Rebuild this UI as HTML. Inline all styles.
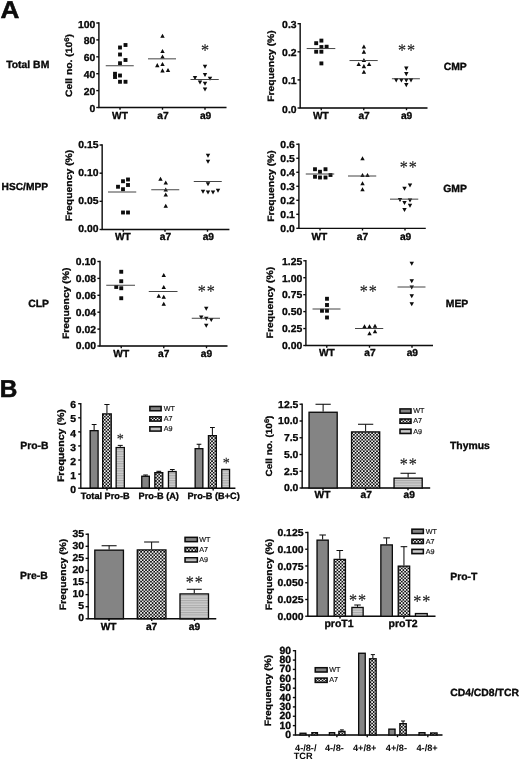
<!DOCTYPE html>
<html lang="en"><head><meta charset="utf-8"><title>Figure</title>
<style>html,body{margin:0;padding:0;background:#fff}svg{display:block}</style></head>
<body>
<svg width="520" height="761" viewBox="0 0 520 761" text-rendering="geometricPrecision">
<defs><filter id="soft" x="0" y="0" width="520" height="761" filterUnits="userSpaceOnUse"><feGaussianBlur stdDeviation="0.3"/></filter>
<pattern id="chk" width="3.3" height="3.3" patternUnits="userSpaceOnUse"><rect width="3.3" height="3.3" fill="#0a0a0a"/><circle cx="0.82" cy="0.82" r="0.93" fill="#fff"/><circle cx="2.47" cy="2.47" r="0.93" fill="#fff"/></pattern>
<pattern id="str" width="2.4" height="2.4" patternUnits="userSpaceOnUse"><rect width="2.4" height="2.4" fill="#cfcfcf"/><rect y="0" width="2.4" height="1.1" fill="#a8a8a8"/></pattern>
</defs>
<rect width="520" height="761" fill="#fff"/>
<g filter="url(#soft)">
<text transform="translate(0.4,18.4) scale(1.07,1)" font-family='"Liberation Sans", sans-serif' font-size="24.4" font-weight="bold" fill="#080808" stroke="#080808" stroke-width="0.5">A</text>
<text x="-0.30" y="396.60" font-family='"Liberation Sans", sans-serif' font-size="24.4" font-weight="bold" text-anchor="start" fill="#080808" stroke="#080808" stroke-width="0.5">B</text>
<path d="M98.90 22.32 V107.50 H226.50" fill="none" stroke="#080808" stroke-width="1.35" stroke-linejoin="miter"/>
<line x1="96.30" y1="107.50" x2="98.90" y2="107.50" stroke="#080808" stroke-width="1.35"/>
<text transform="translate(95.30,112.00) scale(1,0.97)" font-family='"Liberation Sans", sans-serif' font-size="10.4" font-weight="bold" text-anchor="end" fill="#080808" stroke="#080808" stroke-width="0.3">0</text>
<line x1="96.30" y1="90.60" x2="98.90" y2="90.60" stroke="#080808" stroke-width="1.35"/>
<text transform="translate(95.30,95.10) scale(1,0.97)" font-family='"Liberation Sans", sans-serif' font-size="10.4" font-weight="bold" text-anchor="end" fill="#080808" stroke="#080808" stroke-width="0.3">20</text>
<line x1="96.30" y1="73.70" x2="98.90" y2="73.70" stroke="#080808" stroke-width="1.35"/>
<text transform="translate(95.30,78.20) scale(1,0.97)" font-family='"Liberation Sans", sans-serif' font-size="10.4" font-weight="bold" text-anchor="end" fill="#080808" stroke="#080808" stroke-width="0.3">40</text>
<line x1="96.30" y1="56.80" x2="98.90" y2="56.80" stroke="#080808" stroke-width="1.35"/>
<text transform="translate(95.30,61.30) scale(1,0.97)" font-family='"Liberation Sans", sans-serif' font-size="10.4" font-weight="bold" text-anchor="end" fill="#080808" stroke="#080808" stroke-width="0.3">60</text>
<line x1="96.30" y1="39.90" x2="98.90" y2="39.90" stroke="#080808" stroke-width="1.35"/>
<text transform="translate(95.30,44.40) scale(1,0.97)" font-family='"Liberation Sans", sans-serif' font-size="10.4" font-weight="bold" text-anchor="end" fill="#080808" stroke="#080808" stroke-width="0.3">80</text>
<line x1="96.30" y1="23.00" x2="98.90" y2="23.00" stroke="#080808" stroke-width="1.35"/>
<text transform="translate(95.30,27.50) scale(1,0.97)" font-family='"Liberation Sans", sans-serif' font-size="10.4" font-weight="bold" text-anchor="end" fill="#080808" stroke="#080808" stroke-width="0.3">100</text>
<line x1="120.00" y1="107.50" x2="120.00" y2="109.70" stroke="#080808" stroke-width="1.35"/>
<line x1="162.50" y1="107.50" x2="162.50" y2="109.70" stroke="#080808" stroke-width="1.35"/>
<line x1="205.00" y1="107.50" x2="205.00" y2="109.70" stroke="#080808" stroke-width="1.35"/>
<text transform="translate(72.20,65.50) rotate(-90) scale(1,0.89)" font-family='"Liberation Sans", sans-serif' font-size="10.4" font-weight="bold" text-anchor="middle" fill="#080808" stroke="#080808" stroke-width="0.3">Cell no. (10<tspan font-size="7.6" dy="-3.6">6</tspan><tspan dy="3.6">)</tspan></text>
<text x="120.00" y="118.90" font-family='"Liberation Sans", sans-serif' font-size="10.2" font-weight="bold" text-anchor="middle" fill="#080808" stroke="#080808" stroke-width="0.3">WT</text>
<text x="163.00" y="118.90" font-family='"Liberation Sans", sans-serif' font-size="10.2" font-weight="bold" text-anchor="middle" fill="#080808" stroke="#080808" stroke-width="0.3">a7</text>
<text x="205.60" y="118.90" font-family='"Liberation Sans", sans-serif' font-size="10.2" font-weight="bold" text-anchor="middle" fill="#080808" stroke="#080808" stroke-width="0.3">a9</text>
<text x="6.20" y="68.00" font-family='"Liberation Sans", sans-serif' font-size="10.4" font-weight="bold" text-anchor="start" fill="#080808" stroke="#080808" stroke-width="0.3">Total BM</text>
<rect x="118.08" y="45.58" width="3.85" height="3.85" fill="#080808"/>
<rect x="123.58" y="43.08" width="3.85" height="3.85" fill="#080808"/>
<rect x="118.08" y="52.58" width="3.85" height="3.85" fill="#080808"/>
<rect x="123.58" y="58.08" width="3.85" height="3.85" fill="#080808"/>
<rect x="118.08" y="61.33" width="3.85" height="3.85" fill="#080808"/>
<rect x="113.08" y="71.83" width="3.85" height="3.85" fill="#080808"/>
<rect x="118.08" y="73.58" width="3.85" height="3.85" fill="#080808"/>
<rect x="113.08" y="75.08" width="3.85" height="3.85" fill="#080808"/>
<rect x="118.08" y="79.83" width="3.85" height="3.85" fill="#080808"/>
<rect x="123.58" y="79.83" width="3.85" height="3.85" fill="#080808"/>
<line x1="105.75" y1="65.75" x2="133.75" y2="65.75" stroke="#444" stroke-width="1.0"/>
<path d="M160.30 37.85 L164.70 37.85 L162.50 33.65 Z" fill="#080808"/>
<path d="M160.30 53.10 L164.70 53.10 L162.50 48.90 Z" fill="#080808"/>
<path d="M160.30 58.60 L164.70 58.60 L162.50 54.40 Z" fill="#080808"/>
<path d="M155.10 67.30 L159.50 67.30 L157.30 63.10 Z" fill="#080808"/>
<path d="M160.30 66.10 L164.70 66.10 L162.50 61.90 Z" fill="#080808"/>
<path d="M160.30 72.50 L164.70 72.50 L162.50 68.30 Z" fill="#080808"/>
<path d="M165.80 72.10 L170.20 72.10 L168.00 67.90 Z" fill="#080808"/>
<line x1="148.00" y1="58.85" x2="176.00" y2="58.85" stroke="#444" stroke-width="1.0"/>
<path d="M202.80 64.65 L207.20 64.65 L205.00 68.85 Z" fill="#080808"/>
<path d="M202.80 72.90 L207.20 72.90 L205.00 77.10 Z" fill="#080808"/>
<path d="M192.80 75.90 L197.20 75.90 L195.00 80.10 Z" fill="#080808"/>
<path d="M207.80 76.65 L212.20 76.65 L210.00 80.85 Z" fill="#080808"/>
<path d="M197.80 80.40 L202.20 80.40 L200.00 84.60 Z" fill="#080808"/>
<path d="M202.80 81.65 L207.20 81.65 L205.00 85.85 Z" fill="#080808"/>
<path d="M202.80 87.40 L207.20 87.40 L205.00 91.60 Z" fill="#080808"/>
<line x1="190.50" y1="79.50" x2="218.75" y2="79.50" stroke="#444" stroke-width="1.0"/>
<text transform="translate(205.15,56.29) scale(0.9,1)" font-family='"Liberation Serif", serif' font-size="18" text-anchor="middle" fill="#222" stroke="#222" stroke-width="0.14">*</text>
<path d="M300.15 23.02 V108.00 H427.50" fill="none" stroke="#080808" stroke-width="1.35" stroke-linejoin="miter"/>
<line x1="297.55" y1="108.00" x2="300.15" y2="108.00" stroke="#080808" stroke-width="1.35"/>
<text transform="translate(296.55,112.50) scale(1,0.97)" font-family='"Liberation Sans", sans-serif' font-size="10.4" font-weight="bold" text-anchor="end" fill="#080808" stroke="#080808" stroke-width="0.3">0.0</text>
<line x1="297.55" y1="79.90" x2="300.15" y2="79.90" stroke="#080808" stroke-width="1.35"/>
<text transform="translate(296.55,84.40) scale(1,0.97)" font-family='"Liberation Sans", sans-serif' font-size="10.4" font-weight="bold" text-anchor="end" fill="#080808" stroke="#080808" stroke-width="0.3">0.1</text>
<line x1="297.55" y1="51.80" x2="300.15" y2="51.80" stroke="#080808" stroke-width="1.35"/>
<text transform="translate(296.55,56.30) scale(1,0.97)" font-family='"Liberation Sans", sans-serif' font-size="10.4" font-weight="bold" text-anchor="end" fill="#080808" stroke="#080808" stroke-width="0.3">0.2</text>
<line x1="297.55" y1="23.70" x2="300.15" y2="23.70" stroke="#080808" stroke-width="1.35"/>
<text transform="translate(296.55,28.20) scale(1,0.97)" font-family='"Liberation Sans", sans-serif' font-size="10.4" font-weight="bold" text-anchor="end" fill="#080808" stroke="#080808" stroke-width="0.3">0.3</text>
<line x1="321.25" y1="108.00" x2="321.25" y2="110.20" stroke="#080808" stroke-width="1.35"/>
<line x1="363.75" y1="108.00" x2="363.75" y2="110.20" stroke="#080808" stroke-width="1.35"/>
<line x1="406.50" y1="108.00" x2="406.50" y2="110.20" stroke="#080808" stroke-width="1.35"/>
<text transform="translate(274.30,66.00) rotate(-90) scale(1,0.89)" font-family='"Liberation Sans", sans-serif' font-size="10.4" font-weight="bold" text-anchor="middle" fill="#080808" stroke="#080808" stroke-width="0.3">Frequency (%)</text>
<text x="320.90" y="119.15" font-family='"Liberation Sans", sans-serif' font-size="10.2" font-weight="bold" text-anchor="middle" fill="#080808" stroke="#080808" stroke-width="0.3">WT</text>
<text x="364.10" y="119.15" font-family='"Liberation Sans", sans-serif' font-size="10.2" font-weight="bold" text-anchor="middle" fill="#080808" stroke="#080808" stroke-width="0.3">a7</text>
<text x="406.60" y="119.15" font-family='"Liberation Sans", sans-serif' font-size="10.2" font-weight="bold" text-anchor="middle" fill="#080808" stroke="#080808" stroke-width="0.3">a9</text>
<text x="443.70" y="70.10" font-family='"Liberation Sans", sans-serif' font-size="10.4" font-weight="bold" text-anchor="start" fill="#080808" stroke="#080808" stroke-width="0.3">CMP</text>
<rect x="319.47" y="38.68" width="3.85" height="3.85" fill="#080808"/>
<rect x="314.27" y="41.28" width="3.85" height="3.85" fill="#080808"/>
<rect x="319.47" y="45.08" width="3.85" height="3.85" fill="#080808"/>
<rect x="324.68" y="44.78" width="3.85" height="3.85" fill="#080808"/>
<rect x="314.27" y="49.78" width="3.85" height="3.85" fill="#080808"/>
<rect x="319.47" y="49.78" width="3.85" height="3.85" fill="#080808"/>
<rect x="319.47" y="61.48" width="3.85" height="3.85" fill="#080808"/>
<line x1="306.70" y1="48.55" x2="335.30" y2="48.55" stroke="#444" stroke-width="1.0"/>
<path d="M361.70 48.60 L366.10 48.60 L363.90 44.40 Z" fill="#080808"/>
<path d="M361.70 53.80 L366.10 53.80 L363.90 49.60 Z" fill="#080808"/>
<path d="M361.70 62.10 L366.10 62.10 L363.90 57.90 Z" fill="#080808"/>
<path d="M356.50 66.10 L360.90 66.10 L358.70 61.90 Z" fill="#080808"/>
<path d="M366.90 66.10 L371.30 66.10 L369.10 61.90 Z" fill="#080808"/>
<path d="M361.70 68.30 L366.10 68.30 L363.90 64.10 Z" fill="#080808"/>
<path d="M361.70 73.85 L366.10 73.85 L363.90 69.65 Z" fill="#080808"/>
<line x1="349.50" y1="60.55" x2="377.70" y2="60.55" stroke="#444" stroke-width="1.0"/>
<path d="M404.10 66.50 L408.50 66.50 L406.30 70.70 Z" fill="#080808"/>
<path d="M404.10 72.10 L408.50 72.10 L406.30 76.30 Z" fill="#080808"/>
<path d="M394.00 78.20 L398.40 78.20 L396.20 82.40 Z" fill="#080808"/>
<path d="M399.20 78.40 L403.60 78.40 L401.40 82.60 Z" fill="#080808"/>
<path d="M404.10 78.40 L408.50 78.40 L406.30 82.60 Z" fill="#080808"/>
<path d="M408.80 78.20 L413.20 78.20 L411.00 82.40 Z" fill="#080808"/>
<path d="M404.10 83.10 L408.50 83.10 L406.30 87.30 Z" fill="#080808"/>
<line x1="391.90" y1="78.75" x2="419.90" y2="78.75" stroke="#444" stroke-width="1.0"/>
<text transform="translate(402.15,56.29) scale(0.9,1)" font-family='"Liberation Serif", serif' font-size="18" text-anchor="middle" fill="#222" stroke="#222" stroke-width="0.14">*</text>
<text transform="translate(411.15,56.29) scale(0.9,1)" font-family='"Liberation Serif", serif' font-size="18" text-anchor="middle" fill="#222" stroke="#222" stroke-width="0.14">*</text>
<path d="M102.15 144.32 V229.50 H229.40" fill="none" stroke="#080808" stroke-width="1.35" stroke-linejoin="miter"/>
<line x1="99.55" y1="229.50" x2="102.15" y2="229.50" stroke="#080808" stroke-width="1.35"/>
<text transform="translate(98.55,232.00) scale(1,0.97)" font-family='"Liberation Sans", sans-serif' font-size="10.4" font-weight="bold" text-anchor="end" fill="#080808" stroke="#080808" stroke-width="0.3">0.00</text>
<line x1="99.55" y1="201.33" x2="102.15" y2="201.33" stroke="#080808" stroke-width="1.35"/>
<text transform="translate(98.55,203.83) scale(1,0.97)" font-family='"Liberation Sans", sans-serif' font-size="10.4" font-weight="bold" text-anchor="end" fill="#080808" stroke="#080808" stroke-width="0.3">0.05</text>
<line x1="99.55" y1="173.17" x2="102.15" y2="173.17" stroke="#080808" stroke-width="1.35"/>
<text transform="translate(98.55,175.67) scale(1,0.97)" font-family='"Liberation Sans", sans-serif' font-size="10.4" font-weight="bold" text-anchor="end" fill="#080808" stroke="#080808" stroke-width="0.3">0.10</text>
<line x1="99.55" y1="145.00" x2="102.15" y2="145.00" stroke="#080808" stroke-width="1.35"/>
<text transform="translate(98.55,147.50) scale(1,0.97)" font-family='"Liberation Sans", sans-serif' font-size="10.4" font-weight="bold" text-anchor="end" fill="#080808" stroke="#080808" stroke-width="0.3">0.15</text>
<line x1="123.25" y1="229.50" x2="123.25" y2="231.70" stroke="#080808" stroke-width="1.35"/>
<line x1="165.00" y1="229.50" x2="165.00" y2="231.70" stroke="#080808" stroke-width="1.35"/>
<line x1="207.50" y1="229.50" x2="207.50" y2="231.70" stroke="#080808" stroke-width="1.35"/>
<text transform="translate(71.80,185.50) rotate(-90) scale(1,0.89)" font-family='"Liberation Sans", sans-serif' font-size="10.4" font-weight="bold" text-anchor="middle" fill="#080808" stroke="#080808" stroke-width="0.3">Frequency (%)</text>
<text x="122.80" y="240.40" font-family='"Liberation Sans", sans-serif' font-size="10.2" font-weight="bold" text-anchor="middle" fill="#080808" stroke="#080808" stroke-width="0.3">WT</text>
<text x="165.50" y="240.40" font-family='"Liberation Sans", sans-serif' font-size="10.2" font-weight="bold" text-anchor="middle" fill="#080808" stroke="#080808" stroke-width="0.3">a7</text>
<text x="208.30" y="240.40" font-family='"Liberation Sans", sans-serif' font-size="10.2" font-weight="bold" text-anchor="middle" fill="#080808" stroke="#080808" stroke-width="0.3">a9</text>
<text x="1.60" y="190.40" font-family='"Liberation Sans", sans-serif' font-size="10.2" font-weight="bold" text-anchor="start" fill="#080808" stroke="#080808" stroke-width="0.3">HSC/MPP</text>
<rect x="121.08" y="179.32" width="3.85" height="3.85" fill="#080808"/>
<rect x="126.08" y="177.57" width="3.85" height="3.85" fill="#080808"/>
<rect x="116.08" y="184.82" width="3.85" height="3.85" fill="#080808"/>
<rect x="126.08" y="183.07" width="3.85" height="3.85" fill="#080808"/>
<rect x="121.08" y="187.32" width="3.85" height="3.85" fill="#080808"/>
<rect x="121.08" y="210.57" width="3.85" height="3.85" fill="#080808"/>
<rect x="126.08" y="210.57" width="3.85" height="3.85" fill="#080808"/>
<line x1="108.00" y1="192.00" x2="136.25" y2="192.00" stroke="#444" stroke-width="1.0"/>
<path d="M158.30 180.85 L162.70 180.85 L160.50 176.65 Z" fill="#080808"/>
<path d="M163.55 184.60 L167.95 184.60 L165.75 180.40 Z" fill="#080808"/>
<path d="M163.55 191.60 L167.95 191.60 L165.75 187.40 Z" fill="#080808"/>
<path d="M163.55 196.60 L167.95 196.60 L165.75 192.40 Z" fill="#080808"/>
<path d="M163.55 207.85 L167.95 207.85 L165.75 203.65 Z" fill="#080808"/>
<line x1="151.25" y1="189.75" x2="179.25" y2="189.75" stroke="#444" stroke-width="1.0"/>
<path d="M205.80 153.65 L210.20 153.65 L208.00 157.85 Z" fill="#080808"/>
<path d="M205.80 159.65 L210.20 159.65 L208.00 163.85 Z" fill="#080808"/>
<path d="M205.80 182.15 L210.20 182.15 L208.00 186.35 Z" fill="#080808"/>
<path d="M200.80 189.65 L205.20 189.65 L203.00 193.85 Z" fill="#080808"/>
<path d="M205.80 190.40 L210.20 190.40 L208.00 194.60 Z" fill="#080808"/>
<path d="M210.80 190.40 L215.20 190.40 L213.00 194.60 Z" fill="#080808"/>
<path d="M215.80 188.65 L220.20 188.65 L218.00 192.85 Z" fill="#080808"/>
<line x1="193.75" y1="181.50" x2="221.75" y2="181.50" stroke="#444" stroke-width="1.0"/>
<path d="M298.90 143.57 V228.30 H425.75" fill="none" stroke="#080808" stroke-width="1.35" stroke-linejoin="miter"/>
<line x1="296.30" y1="228.30" x2="298.90" y2="228.30" stroke="#080808" stroke-width="1.35"/>
<text transform="translate(294.80,232.30) scale(1,0.97)" font-family='"Liberation Sans", sans-serif' font-size="10.4" font-weight="bold" text-anchor="end" fill="#080808" stroke="#080808" stroke-width="0.3">0.0</text>
<line x1="296.30" y1="214.29" x2="298.90" y2="214.29" stroke="#080808" stroke-width="1.35"/>
<text transform="translate(294.80,218.29) scale(1,0.97)" font-family='"Liberation Sans", sans-serif' font-size="10.4" font-weight="bold" text-anchor="end" fill="#080808" stroke="#080808" stroke-width="0.3">0.1</text>
<line x1="296.30" y1="200.28" x2="298.90" y2="200.28" stroke="#080808" stroke-width="1.35"/>
<text transform="translate(294.80,204.28) scale(1,0.97)" font-family='"Liberation Sans", sans-serif' font-size="10.4" font-weight="bold" text-anchor="end" fill="#080808" stroke="#080808" stroke-width="0.3">0.2</text>
<line x1="296.30" y1="186.28" x2="298.90" y2="186.28" stroke="#080808" stroke-width="1.35"/>
<text transform="translate(294.80,190.28) scale(1,0.97)" font-family='"Liberation Sans", sans-serif' font-size="10.4" font-weight="bold" text-anchor="end" fill="#080808" stroke="#080808" stroke-width="0.3">0.3</text>
<line x1="296.30" y1="172.27" x2="298.90" y2="172.27" stroke="#080808" stroke-width="1.35"/>
<text transform="translate(294.80,176.27) scale(1,0.97)" font-family='"Liberation Sans", sans-serif' font-size="10.4" font-weight="bold" text-anchor="end" fill="#080808" stroke="#080808" stroke-width="0.3">0.4</text>
<line x1="296.30" y1="158.26" x2="298.90" y2="158.26" stroke="#080808" stroke-width="1.35"/>
<text transform="translate(294.80,162.26) scale(1,0.97)" font-family='"Liberation Sans", sans-serif' font-size="10.4" font-weight="bold" text-anchor="end" fill="#080808" stroke="#080808" stroke-width="0.3">0.5</text>
<line x1="296.30" y1="144.25" x2="298.90" y2="144.25" stroke="#080808" stroke-width="1.35"/>
<text transform="translate(294.80,148.25) scale(1,0.97)" font-family='"Liberation Sans", sans-serif' font-size="10.4" font-weight="bold" text-anchor="end" fill="#080808" stroke="#080808" stroke-width="0.3">0.6</text>
<line x1="320.00" y1="228.30" x2="320.00" y2="230.50" stroke="#080808" stroke-width="1.35"/>
<line x1="362.50" y1="228.30" x2="362.50" y2="230.50" stroke="#080808" stroke-width="1.35"/>
<line x1="405.00" y1="228.30" x2="405.00" y2="230.50" stroke="#080808" stroke-width="1.35"/>
<text transform="translate(273.50,186.00) rotate(-90) scale(1,0.89)" font-family='"Liberation Sans", sans-serif' font-size="10.4" font-weight="bold" text-anchor="middle" fill="#080808" stroke="#080808" stroke-width="0.3">Frequency (%)</text>
<text x="319.40" y="239.80" font-family='"Liberation Sans", sans-serif' font-size="10.2" font-weight="bold" text-anchor="middle" fill="#080808" stroke="#080808" stroke-width="0.3">WT</text>
<text x="362.50" y="239.80" font-family='"Liberation Sans", sans-serif' font-size="10.2" font-weight="bold" text-anchor="middle" fill="#080808" stroke="#080808" stroke-width="0.3">a7</text>
<text x="405.60" y="239.80" font-family='"Liberation Sans", sans-serif' font-size="10.2" font-weight="bold" text-anchor="middle" fill="#080808" stroke="#080808" stroke-width="0.3">a9</text>
<text x="443.25" y="191.80" font-family='"Liberation Sans", sans-serif' font-size="10.4" font-weight="bold" text-anchor="start" fill="#080808" stroke="#080808" stroke-width="0.3">GMP</text>
<rect x="313.07" y="167.32" width="3.85" height="3.85" fill="#080808"/>
<rect x="323.57" y="167.32" width="3.85" height="3.85" fill="#080808"/>
<rect x="318.07" y="169.82" width="3.85" height="3.85" fill="#080808"/>
<rect x="328.57" y="173.07" width="3.85" height="3.85" fill="#080808"/>
<rect x="313.07" y="174.82" width="3.85" height="3.85" fill="#080808"/>
<rect x="318.07" y="175.57" width="3.85" height="3.85" fill="#080808"/>
<rect x="323.57" y="175.57" width="3.85" height="3.85" fill="#080808"/>
<line x1="305.75" y1="174.00" x2="334.25" y2="174.00" stroke="#444" stroke-width="1.0"/>
<path d="M360.30 160.35 L364.70 160.35 L362.50 156.15 Z" fill="#080808"/>
<path d="M360.30 177.10 L364.70 177.10 L362.50 172.90 Z" fill="#080808"/>
<path d="M365.30 177.10 L369.70 177.10 L367.50 172.90 Z" fill="#080808"/>
<path d="M360.30 185.35 L364.70 185.35 L362.50 181.15 Z" fill="#080808"/>
<path d="M360.30 191.35 L364.70 191.35 L362.50 187.15 Z" fill="#080808"/>
<line x1="348.00" y1="176.00" x2="376.25" y2="176.00" stroke="#444" stroke-width="1.0"/>
<path d="M407.80 183.40 L412.20 183.40 L410.00 187.60 Z" fill="#080808"/>
<path d="M402.30 186.65 L406.70 186.65 L404.50 190.85 Z" fill="#080808"/>
<path d="M397.80 197.90 L402.20 197.90 L400.00 202.10 Z" fill="#080808"/>
<path d="M407.80 198.40 L412.20 198.40 L410.00 202.60 Z" fill="#080808"/>
<path d="M402.30 200.90 L406.70 200.90 L404.50 205.10 Z" fill="#080808"/>
<path d="M407.80 203.65 L412.20 203.65 L410.00 207.85 Z" fill="#080808"/>
<path d="M402.30 207.90 L406.70 207.90 L404.50 212.10 Z" fill="#080808"/>
<line x1="390.00" y1="199.15" x2="418.25" y2="199.15" stroke="#444" stroke-width="1.0"/>
<text transform="translate(403.90,172.54) scale(0.9,1)" font-family='"Liberation Serif", serif' font-size="18" text-anchor="middle" fill="#222" stroke="#222" stroke-width="0.14">*</text>
<text transform="translate(412.90,172.54) scale(0.9,1)" font-family='"Liberation Serif", serif' font-size="18" text-anchor="middle" fill="#222" stroke="#222" stroke-width="0.14">*</text>
<path d="M100.00 260.82 V346.00 H227.50" fill="none" stroke="#080808" stroke-width="1.35" stroke-linejoin="miter"/>
<line x1="97.40" y1="346.00" x2="100.00" y2="346.00" stroke="#080808" stroke-width="1.35"/>
<text transform="translate(96.10,349.40) scale(1,0.97)" font-family='"Liberation Sans", sans-serif' font-size="10.4" font-weight="bold" text-anchor="end" fill="#080808" stroke="#080808" stroke-width="0.3">0.00</text>
<line x1="97.40" y1="329.10" x2="100.00" y2="329.10" stroke="#080808" stroke-width="1.35"/>
<text transform="translate(96.10,332.50) scale(1,0.97)" font-family='"Liberation Sans", sans-serif' font-size="10.4" font-weight="bold" text-anchor="end" fill="#080808" stroke="#080808" stroke-width="0.3">0.02</text>
<line x1="97.40" y1="312.20" x2="100.00" y2="312.20" stroke="#080808" stroke-width="1.35"/>
<text transform="translate(96.10,315.60) scale(1,0.97)" font-family='"Liberation Sans", sans-serif' font-size="10.4" font-weight="bold" text-anchor="end" fill="#080808" stroke="#080808" stroke-width="0.3">0.04</text>
<line x1="97.40" y1="295.30" x2="100.00" y2="295.30" stroke="#080808" stroke-width="1.35"/>
<text transform="translate(96.10,298.70) scale(1,0.97)" font-family='"Liberation Sans", sans-serif' font-size="10.4" font-weight="bold" text-anchor="end" fill="#080808" stroke="#080808" stroke-width="0.3">0.06</text>
<line x1="97.40" y1="278.40" x2="100.00" y2="278.40" stroke="#080808" stroke-width="1.35"/>
<text transform="translate(96.10,281.80) scale(1,0.97)" font-family='"Liberation Sans", sans-serif' font-size="10.4" font-weight="bold" text-anchor="end" fill="#080808" stroke="#080808" stroke-width="0.3">0.08</text>
<line x1="97.40" y1="261.50" x2="100.00" y2="261.50" stroke="#080808" stroke-width="1.35"/>
<text transform="translate(96.10,264.90) scale(1,0.97)" font-family='"Liberation Sans", sans-serif' font-size="10.4" font-weight="bold" text-anchor="end" fill="#080808" stroke="#080808" stroke-width="0.3">0.10</text>
<line x1="121.25" y1="346.00" x2="121.25" y2="348.20" stroke="#080808" stroke-width="1.35"/>
<line x1="163.75" y1="346.00" x2="163.75" y2="348.20" stroke="#080808" stroke-width="1.35"/>
<line x1="206.50" y1="346.00" x2="206.50" y2="348.20" stroke="#080808" stroke-width="1.35"/>
<text transform="translate(69.00,303.30) rotate(-90) scale(1,0.89)" font-family='"Liberation Sans", sans-serif' font-size="10.4" font-weight="bold" text-anchor="middle" fill="#080808" stroke="#080808" stroke-width="0.3">Frequency (%)</text>
<text x="121.20" y="356.70" font-family='"Liberation Sans", sans-serif' font-size="10.2" font-weight="bold" text-anchor="middle" fill="#080808" stroke="#080808" stroke-width="0.3">WT</text>
<text x="163.75" y="356.70" font-family='"Liberation Sans", sans-serif' font-size="10.2" font-weight="bold" text-anchor="middle" fill="#080808" stroke="#080808" stroke-width="0.3">a7</text>
<text x="206.50" y="356.70" font-family='"Liberation Sans", sans-serif' font-size="10.2" font-weight="bold" text-anchor="middle" fill="#080808" stroke="#080808" stroke-width="0.3">a9</text>
<text x="28.25" y="306.70" font-family='"Liberation Sans", sans-serif' font-size="10.4" font-weight="bold" text-anchor="start" fill="#080808" stroke="#080808" stroke-width="0.3">CLP</text>
<rect x="119.33" y="269.82" width="3.85" height="3.85" fill="#080808"/>
<rect x="119.33" y="279.32" width="3.85" height="3.85" fill="#080808"/>
<rect x="114.33" y="285.07" width="3.85" height="3.85" fill="#080808"/>
<rect x="119.33" y="286.32" width="3.85" height="3.85" fill="#080808"/>
<rect x="119.33" y="296.32" width="3.85" height="3.85" fill="#080808"/>
<line x1="106.25" y1="285.25" x2="135.00" y2="285.25" stroke="#444" stroke-width="1.0"/>
<path d="M161.55 277.10 L165.95 277.10 L163.75 272.90 Z" fill="#080808"/>
<path d="M161.55 289.10 L165.95 289.10 L163.75 284.90 Z" fill="#080808"/>
<path d="M156.55 297.85 L160.95 297.85 L158.75 293.65 Z" fill="#080808"/>
<path d="M161.55 298.85 L165.95 298.85 L163.75 294.65 Z" fill="#080808"/>
<path d="M161.55 305.85 L165.95 305.85 L163.75 301.65 Z" fill="#080808"/>
<line x1="148.75" y1="291.50" x2="177.50" y2="291.50" stroke="#444" stroke-width="1.0"/>
<path d="M204.05 306.65 L208.45 306.65 L206.25 310.85 Z" fill="#080808"/>
<path d="M199.05 315.40 L203.45 315.40 L201.25 319.60 Z" fill="#080808"/>
<path d="M204.05 316.65 L208.45 316.65 L206.25 320.85 Z" fill="#080808"/>
<path d="M209.05 317.90 L213.45 317.90 L211.25 322.10 Z" fill="#080808"/>
<path d="M204.05 323.65 L208.45 323.65 L206.25 327.85 Z" fill="#080808"/>
<line x1="191.75" y1="318.25" x2="220.00" y2="318.25" stroke="#444" stroke-width="1.0"/>
<text transform="translate(201.90,296.79) scale(0.9,1)" font-family='"Liberation Serif", serif' font-size="18" text-anchor="middle" fill="#222" stroke="#222" stroke-width="0.14">*</text>
<text transform="translate(210.90,296.79) scale(0.9,1)" font-family='"Liberation Serif", serif' font-size="18" text-anchor="middle" fill="#222" stroke="#222" stroke-width="0.14">*</text>
<path d="M305.90 260.07 V345.50 H433.00" fill="none" stroke="#080808" stroke-width="1.35" stroke-linejoin="miter"/>
<line x1="303.30" y1="345.50" x2="305.90" y2="345.50" stroke="#080808" stroke-width="1.35"/>
<text transform="translate(302.30,349.30) scale(1,0.97)" font-family='"Liberation Sans", sans-serif' font-size="10.4" font-weight="bold" text-anchor="end" fill="#080808" stroke="#080808" stroke-width="0.3">0.00</text>
<line x1="303.30" y1="328.55" x2="305.90" y2="328.55" stroke="#080808" stroke-width="1.35"/>
<text transform="translate(302.30,332.35) scale(1,0.97)" font-family='"Liberation Sans", sans-serif' font-size="10.4" font-weight="bold" text-anchor="end" fill="#080808" stroke="#080808" stroke-width="0.3">0.25</text>
<line x1="303.30" y1="311.60" x2="305.90" y2="311.60" stroke="#080808" stroke-width="1.35"/>
<text transform="translate(302.30,315.40) scale(1,0.97)" font-family='"Liberation Sans", sans-serif' font-size="10.4" font-weight="bold" text-anchor="end" fill="#080808" stroke="#080808" stroke-width="0.3">0.50</text>
<line x1="303.30" y1="294.65" x2="305.90" y2="294.65" stroke="#080808" stroke-width="1.35"/>
<text transform="translate(302.30,298.45) scale(1,0.97)" font-family='"Liberation Sans", sans-serif' font-size="10.4" font-weight="bold" text-anchor="end" fill="#080808" stroke="#080808" stroke-width="0.3">0.75</text>
<line x1="303.30" y1="277.70" x2="305.90" y2="277.70" stroke="#080808" stroke-width="1.35"/>
<text transform="translate(302.30,281.50) scale(1,0.97)" font-family='"Liberation Sans", sans-serif' font-size="10.4" font-weight="bold" text-anchor="end" fill="#080808" stroke="#080808" stroke-width="0.3">1.00</text>
<line x1="303.30" y1="260.75" x2="305.90" y2="260.75" stroke="#080808" stroke-width="1.35"/>
<text transform="translate(302.30,264.55) scale(1,0.97)" font-family='"Liberation Sans", sans-serif' font-size="10.4" font-weight="bold" text-anchor="end" fill="#080808" stroke="#080808" stroke-width="0.3">1.25</text>
<line x1="326.75" y1="345.50" x2="326.75" y2="347.70" stroke="#080808" stroke-width="1.35"/>
<line x1="369.50" y1="345.50" x2="369.50" y2="347.70" stroke="#080808" stroke-width="1.35"/>
<line x1="412.00" y1="345.50" x2="412.00" y2="347.70" stroke="#080808" stroke-width="1.35"/>
<text transform="translate(273.30,302.60) rotate(-90) scale(1,0.89)" font-family='"Liberation Sans", sans-serif' font-size="10.4" font-weight="bold" text-anchor="middle" fill="#080808" stroke="#080808" stroke-width="0.3">Frequency (%)</text>
<text x="326.80" y="356.10" font-family='"Liberation Sans", sans-serif' font-size="10.2" font-weight="bold" text-anchor="middle" fill="#080808" stroke="#080808" stroke-width="0.3">WT</text>
<text x="370.00" y="356.10" font-family='"Liberation Sans", sans-serif' font-size="10.2" font-weight="bold" text-anchor="middle" fill="#080808" stroke="#080808" stroke-width="0.3">a7</text>
<text x="412.30" y="356.10" font-family='"Liberation Sans", sans-serif' font-size="10.2" font-weight="bold" text-anchor="middle" fill="#080808" stroke="#080808" stroke-width="0.3">a9</text>
<text x="445.75" y="306.90" font-family='"Liberation Sans", sans-serif' font-size="10.4" font-weight="bold" text-anchor="start" fill="#080808" stroke="#080808" stroke-width="0.3">MEP</text>
<rect x="325.07" y="296.82" width="3.85" height="3.85" fill="#080808"/>
<rect x="325.07" y="303.07" width="3.85" height="3.85" fill="#080808"/>
<rect x="320.07" y="308.82" width="3.85" height="3.85" fill="#080808"/>
<rect x="325.07" y="308.82" width="3.85" height="3.85" fill="#080808"/>
<rect x="325.07" y="315.57" width="3.85" height="3.85" fill="#080808"/>
<line x1="312.50" y1="309.00" x2="340.50" y2="309.00" stroke="#444" stroke-width="1.0"/>
<path d="M362.30 328.35 L366.70 328.35 L364.50 324.15 Z" fill="#080808"/>
<path d="M367.30 328.35 L371.70 328.35 L369.50 324.15 Z" fill="#080808"/>
<path d="M372.80 327.85 L377.20 327.85 L375.00 323.65 Z" fill="#080808"/>
<path d="M367.30 335.35 L371.70 335.35 L369.50 331.15 Z" fill="#080808"/>
<path d="M372.80 333.35 L377.20 333.35 L375.00 329.15 Z" fill="#080808"/>
<line x1="355.00" y1="328.50" x2="383.25" y2="328.50" stroke="#444" stroke-width="1.0"/>
<text transform="translate(363.90,296.54) scale(0.9,1)" font-family='"Liberation Serif", serif' font-size="18" text-anchor="middle" fill="#222" stroke="#222" stroke-width="0.14">*</text>
<text transform="translate(372.90,296.54) scale(0.9,1)" font-family='"Liberation Serif", serif' font-size="18" text-anchor="middle" fill="#222" stroke="#222" stroke-width="0.14">*</text>
<path d="M409.55 261.65 L413.95 261.65 L411.75 265.85 Z" fill="#080808"/>
<path d="M409.55 279.15 L413.95 279.15 L411.75 283.35 Z" fill="#080808"/>
<path d="M409.55 285.40 L413.95 285.40 L411.75 289.60 Z" fill="#080808"/>
<path d="M409.55 294.15 L413.95 294.15 L411.75 298.35 Z" fill="#080808"/>
<path d="M409.55 302.15 L413.95 302.15 L411.75 306.35 Z" fill="#080808"/>
<line x1="397.50" y1="287.00" x2="425.50" y2="287.00" stroke="#444" stroke-width="1.0"/>
<path d="M80.80 403.02 V488.20 H235.40" fill="none" stroke="#080808" stroke-width="1.35" stroke-linejoin="miter"/>
<line x1="78.20" y1="488.20" x2="80.80" y2="488.20" stroke="#080808" stroke-width="1.35"/>
<text transform="translate(76.10,492.90) scale(1,0.97)" font-family='"Liberation Sans", sans-serif' font-size="10.4" font-weight="bold" text-anchor="end" fill="#080808" stroke="#080808" stroke-width="0.3">0</text>
<line x1="78.20" y1="474.12" x2="80.80" y2="474.12" stroke="#080808" stroke-width="1.35"/>
<text transform="translate(76.10,478.82) scale(1,0.97)" font-family='"Liberation Sans", sans-serif' font-size="10.4" font-weight="bold" text-anchor="end" fill="#080808" stroke="#080808" stroke-width="0.3">1</text>
<line x1="78.20" y1="460.03" x2="80.80" y2="460.03" stroke="#080808" stroke-width="1.35"/>
<text transform="translate(76.10,464.73) scale(1,0.97)" font-family='"Liberation Sans", sans-serif' font-size="10.4" font-weight="bold" text-anchor="end" fill="#080808" stroke="#080808" stroke-width="0.3">2</text>
<line x1="78.20" y1="445.95" x2="80.80" y2="445.95" stroke="#080808" stroke-width="1.35"/>
<text transform="translate(76.10,450.65) scale(1,0.97)" font-family='"Liberation Sans", sans-serif' font-size="10.4" font-weight="bold" text-anchor="end" fill="#080808" stroke="#080808" stroke-width="0.3">3</text>
<line x1="78.20" y1="431.87" x2="80.80" y2="431.87" stroke="#080808" stroke-width="1.35"/>
<text transform="translate(76.10,436.57) scale(1,0.97)" font-family='"Liberation Sans", sans-serif' font-size="10.4" font-weight="bold" text-anchor="end" fill="#080808" stroke="#080808" stroke-width="0.3">4</text>
<line x1="78.20" y1="417.78" x2="80.80" y2="417.78" stroke="#080808" stroke-width="1.35"/>
<text transform="translate(76.10,422.48) scale(1,0.97)" font-family='"Liberation Sans", sans-serif' font-size="10.4" font-weight="bold" text-anchor="end" fill="#080808" stroke="#080808" stroke-width="0.3">5</text>
<line x1="78.20" y1="403.70" x2="80.80" y2="403.70" stroke="#080808" stroke-width="1.35"/>
<text transform="translate(76.10,408.40) scale(1,0.97)" font-family='"Liberation Sans", sans-serif' font-size="10.4" font-weight="bold" text-anchor="end" fill="#080808" stroke="#080808" stroke-width="0.3">6</text>
<line x1="107.00" y1="488.20" x2="107.00" y2="490.40" stroke="#080808" stroke-width="1.35"/>
<line x1="158.75" y1="488.20" x2="158.75" y2="490.40" stroke="#080808" stroke-width="1.35"/>
<line x1="213.20" y1="488.20" x2="213.20" y2="490.40" stroke="#080808" stroke-width="1.35"/>
<text transform="translate(63.70,445.60) rotate(-90) scale(1,0.89)" font-family='"Liberation Sans", sans-serif' font-size="10.6" font-weight="bold" text-anchor="middle" fill="#080808" stroke="#080808" stroke-width="0.3">Frequency (%)</text>
<text x="105.20" y="499.15" font-family='"Liberation Sans", sans-serif' font-size="9.2" font-weight="bold" text-anchor="middle" fill="#080808" stroke="#080808" stroke-width="0.3">Total Pro-B</text>
<text x="158.75" y="499.15" font-family='"Liberation Sans", sans-serif' font-size="9.2" font-weight="bold" text-anchor="middle" fill="#080808" stroke="#080808" stroke-width="0.3">Pro-B (A)</text>
<text x="213.60" y="499.15" font-family='"Liberation Sans", sans-serif' font-size="9.2" font-weight="bold" text-anchor="middle" fill="#080808" stroke="#080808" stroke-width="0.3">Pro-B (B+C)</text>
<text x="20.30" y="448.80" font-family='"Liberation Sans", sans-serif' font-size="10.4" font-weight="bold" text-anchor="start" fill="#080808" stroke="#080808" stroke-width="0.3">Pro-B</text>
<line x1="94.12" y1="430.00" x2="94.12" y2="424.50" stroke="#080808" stroke-width="1.0"/>
<line x1="91.72" y1="424.50" x2="96.53" y2="424.50" stroke="#080808" stroke-width="1.0"/>
<rect x="90.15" y="430.65" width="7.95" height="57.35" fill="#848484" stroke="#080808" stroke-width="1.3"/>
<line x1="106.95" y1="413.25" x2="106.95" y2="404.50" stroke="#080808" stroke-width="1.0"/>
<line x1="104.38" y1="404.50" x2="109.52" y2="404.50" stroke="#080808" stroke-width="1.0"/>
<rect x="102.65" y="413.90" width="8.60" height="74.10" fill="url(#chk)" stroke="#080808" stroke-width="1.3"/>
<line x1="120.25" y1="446.90" x2="120.25" y2="445.40" stroke="#080808" stroke-width="1.0"/>
<line x1="117.78" y1="445.40" x2="122.72" y2="445.40" stroke="#080808" stroke-width="1.0"/>
<rect x="116.15" y="447.55" width="8.20" height="40.45" fill="url(#str)" stroke="#080808" stroke-width="1.3"/>
<text transform="translate(120.35,443.80) scale(0.9,1)" font-family='"Liberation Serif", serif' font-size="15.6" text-anchor="middle" fill="#222" stroke="#222" stroke-width="0.14">*</text>
<line x1="145.55" y1="475.60" x2="145.55" y2="475.00" stroke="#080808" stroke-width="1.0"/>
<line x1="143.24" y1="475.00" x2="147.86" y2="475.00" stroke="#080808" stroke-width="1.0"/>
<rect x="141.75" y="476.25" width="7.60" height="11.75" fill="#848484" stroke="#080808" stroke-width="1.3"/>
<line x1="158.80" y1="472.00" x2="158.80" y2="471.30" stroke="#080808" stroke-width="1.0"/>
<line x1="156.41" y1="471.30" x2="161.19" y2="471.30" stroke="#080808" stroke-width="1.0"/>
<rect x="154.85" y="472.65" width="7.90" height="15.35" fill="url(#chk)" stroke="#080808" stroke-width="1.3"/>
<line x1="172.30" y1="470.90" x2="172.30" y2="469.50" stroke="#080808" stroke-width="1.0"/>
<line x1="169.96" y1="469.50" x2="174.64" y2="469.50" stroke="#080808" stroke-width="1.0"/>
<rect x="168.45" y="471.55" width="7.70" height="16.45" fill="url(#str)" stroke="#080808" stroke-width="1.3"/>
<line x1="199.00" y1="448.00" x2="199.00" y2="444.25" stroke="#080808" stroke-width="1.0"/>
<line x1="196.66" y1="444.25" x2="201.34" y2="444.25" stroke="#080808" stroke-width="1.0"/>
<rect x="195.15" y="448.65" width="7.70" height="39.35" fill="#848484" stroke="#080808" stroke-width="1.3"/>
<line x1="212.40" y1="435.00" x2="212.40" y2="427.50" stroke="#080808" stroke-width="1.0"/>
<line x1="210.01" y1="427.50" x2="214.79" y2="427.50" stroke="#080808" stroke-width="1.0"/>
<rect x="208.45" y="435.65" width="7.90" height="52.35" fill="url(#chk)" stroke="#080808" stroke-width="1.3"/>
<rect x="221.75" y="469.40" width="7.80" height="18.60" fill="url(#str)" stroke="#080808" stroke-width="1.3"/>
<text transform="translate(226.15,468.40) scale(0.9,1)" font-family='"Liberation Serif", serif' font-size="15.6" text-anchor="middle" fill="#222" stroke="#222" stroke-width="0.14">*</text>
<rect x="149.85" y="406.45" width="11.30" height="4.30" fill="#848484" stroke="#080808" stroke-width="1.5"/>
<text x="163.70" y="410.76" font-family='"Liberation Sans", sans-serif' font-size="7.2" font-weight="normal" text-anchor="start" fill="#111" stroke="#111" stroke-width="0.15">WT</text>
<rect x="149.85" y="416.80" width="11.30" height="4.30" fill="url(#chk)" stroke="#080808" stroke-width="1.5"/>
<text x="163.70" y="421.11" font-family='"Liberation Sans", sans-serif' font-size="7.2" font-weight="normal" text-anchor="start" fill="#111" stroke="#111" stroke-width="0.15">A7</text>
<rect x="149.85" y="426.80" width="11.30" height="4.30" fill="url(#str)" stroke="#080808" stroke-width="1.5"/>
<text x="163.70" y="431.11" font-family='"Liberation Sans", sans-serif' font-size="7.2" font-weight="normal" text-anchor="start" fill="#111" stroke="#111" stroke-width="0.15">A9</text>
<path d="M302.15 403.57 V488.00 H430.20" fill="none" stroke="#080808" stroke-width="1.35" stroke-linejoin="miter"/>
<line x1="299.55" y1="488.00" x2="302.15" y2="488.00" stroke="#080808" stroke-width="1.35"/>
<text transform="translate(298.35,491.30) scale(1,0.97)" font-family='"Liberation Sans", sans-serif' font-size="10.4" font-weight="bold" text-anchor="end" fill="#080808" stroke="#080808" stroke-width="0.3">0.0</text>
<line x1="299.55" y1="471.25" x2="302.15" y2="471.25" stroke="#080808" stroke-width="1.35"/>
<text transform="translate(298.35,474.55) scale(1,0.97)" font-family='"Liberation Sans", sans-serif' font-size="10.4" font-weight="bold" text-anchor="end" fill="#080808" stroke="#080808" stroke-width="0.3">2.5</text>
<line x1="299.55" y1="454.50" x2="302.15" y2="454.50" stroke="#080808" stroke-width="1.35"/>
<text transform="translate(298.35,457.80) scale(1,0.97)" font-family='"Liberation Sans", sans-serif' font-size="10.4" font-weight="bold" text-anchor="end" fill="#080808" stroke="#080808" stroke-width="0.3">5.0</text>
<line x1="299.55" y1="437.75" x2="302.15" y2="437.75" stroke="#080808" stroke-width="1.35"/>
<text transform="translate(298.35,441.05) scale(1,0.97)" font-family='"Liberation Sans", sans-serif' font-size="10.4" font-weight="bold" text-anchor="end" fill="#080808" stroke="#080808" stroke-width="0.3">7.5</text>
<line x1="299.55" y1="421.00" x2="302.15" y2="421.00" stroke="#080808" stroke-width="1.35"/>
<text transform="translate(298.35,424.30) scale(1,0.97)" font-family='"Liberation Sans", sans-serif' font-size="10.4" font-weight="bold" text-anchor="end" fill="#080808" stroke="#080808" stroke-width="0.3">10.0</text>
<line x1="299.55" y1="404.25" x2="302.15" y2="404.25" stroke="#080808" stroke-width="1.35"/>
<text transform="translate(298.35,407.55) scale(1,0.97)" font-family='"Liberation Sans", sans-serif' font-size="10.4" font-weight="bold" text-anchor="end" fill="#080808" stroke="#080808" stroke-width="0.3">12.5</text>
<line x1="323.00" y1="488.00" x2="323.00" y2="490.20" stroke="#080808" stroke-width="1.35"/>
<line x1="365.60" y1="488.00" x2="365.60" y2="490.20" stroke="#080808" stroke-width="1.35"/>
<line x1="408.00" y1="488.00" x2="408.00" y2="490.20" stroke="#080808" stroke-width="1.35"/>
<text transform="translate(271.90,446.00) rotate(-90) scale(1,0.89)" font-family='"Liberation Sans", sans-serif' font-size="10.0" font-weight="bold" text-anchor="middle" fill="#080808" stroke="#080808" stroke-width="0.3">Cell no. (10<tspan font-size="7.6" dy="-3.6">6</tspan><tspan dy="3.6">)</tspan></text>
<text x="322.50" y="498.40" font-family='"Liberation Sans", sans-serif' font-size="10.2" font-weight="bold" text-anchor="middle" fill="#080808" stroke="#080808" stroke-width="0.3">WT</text>
<text x="366.25" y="498.40" font-family='"Liberation Sans", sans-serif' font-size="10.2" font-weight="bold" text-anchor="middle" fill="#080808" stroke="#080808" stroke-width="0.3">a7</text>
<text x="409.25" y="498.40" font-family='"Liberation Sans", sans-serif' font-size="10.2" font-weight="bold" text-anchor="middle" fill="#080808" stroke="#080808" stroke-width="0.3">a9</text>
<text x="450.00" y="449.40" font-family='"Liberation Sans", sans-serif' font-size="10.4" font-weight="bold" text-anchor="start" fill="#080808" stroke="#080808" stroke-width="0.3">Thymus</text>
<line x1="323.12" y1="411.60" x2="323.12" y2="404.25" stroke="#080808" stroke-width="1.0"/>
<line x1="315.50" y1="404.25" x2="330.75" y2="404.25" stroke="#080808" stroke-width="1.0"/>
<rect x="309.05" y="412.25" width="28.15" height="75.75" fill="#848484" stroke="#080808" stroke-width="1.3"/>
<line x1="365.62" y1="431.25" x2="365.62" y2="424.25" stroke="#080808" stroke-width="1.0"/>
<line x1="358.00" y1="424.25" x2="373.25" y2="424.25" stroke="#080808" stroke-width="1.0"/>
<rect x="351.55" y="431.90" width="28.15" height="56.10" fill="url(#chk)" stroke="#080808" stroke-width="1.3"/>
<line x1="408.12" y1="477.50" x2="408.12" y2="473.25" stroke="#080808" stroke-width="1.0"/>
<line x1="400.50" y1="473.25" x2="415.75" y2="473.25" stroke="#080808" stroke-width="1.0"/>
<rect x="394.05" y="478.15" width="28.15" height="9.85" fill="url(#str)" stroke="#080808" stroke-width="1.3"/>
<text transform="translate(403.90,469.54) scale(0.9,1)" font-family='"Liberation Serif", serif' font-size="18" text-anchor="middle" fill="#222" stroke="#222" stroke-width="0.14">*</text>
<text transform="translate(412.90,469.54) scale(0.9,1)" font-family='"Liberation Serif", serif' font-size="18" text-anchor="middle" fill="#222" stroke="#222" stroke-width="0.14">*</text>
<rect x="400.00" y="408.90" width="11.00" height="4.30" fill="#848484" stroke="#080808" stroke-width="1.5"/>
<text x="413.30" y="413.21" font-family='"Liberation Sans", sans-serif' font-size="7.2" font-weight="normal" text-anchor="start" fill="#111" stroke="#111" stroke-width="0.15">WT</text>
<rect x="400.00" y="419.00" width="11.00" height="4.30" fill="url(#chk)" stroke="#080808" stroke-width="1.5"/>
<text x="413.30" y="423.31" font-family='"Liberation Sans", sans-serif' font-size="7.2" font-weight="normal" text-anchor="start" fill="#111" stroke="#111" stroke-width="0.15">A7</text>
<rect x="400.00" y="429.20" width="11.00" height="4.30" fill="url(#str)" stroke="#080808" stroke-width="1.5"/>
<text x="413.30" y="433.51" font-family='"Liberation Sans", sans-serif' font-size="7.2" font-weight="normal" text-anchor="start" fill="#111" stroke="#111" stroke-width="0.15">A9</text>
<path d="M88.20 533.58 V618.75 H216.25" fill="none" stroke="#080808" stroke-width="1.35" stroke-linejoin="miter"/>
<line x1="85.60" y1="618.75" x2="88.20" y2="618.75" stroke="#080808" stroke-width="1.35"/>
<text transform="translate(84.10,621.05) scale(1,0.97)" font-family='"Liberation Sans", sans-serif' font-size="10.4" font-weight="bold" text-anchor="end" fill="#080808" stroke="#080808" stroke-width="0.3">0</text>
<line x1="85.60" y1="606.68" x2="88.20" y2="606.68" stroke="#080808" stroke-width="1.35"/>
<text transform="translate(84.10,608.98) scale(1,0.97)" font-family='"Liberation Sans", sans-serif' font-size="10.4" font-weight="bold" text-anchor="end" fill="#080808" stroke="#080808" stroke-width="0.3">5</text>
<line x1="85.60" y1="594.61" x2="88.20" y2="594.61" stroke="#080808" stroke-width="1.35"/>
<text transform="translate(84.10,596.91) scale(1,0.97)" font-family='"Liberation Sans", sans-serif' font-size="10.4" font-weight="bold" text-anchor="end" fill="#080808" stroke="#080808" stroke-width="0.3">10</text>
<line x1="85.60" y1="582.54" x2="88.20" y2="582.54" stroke="#080808" stroke-width="1.35"/>
<text transform="translate(84.10,584.84) scale(1,0.97)" font-family='"Liberation Sans", sans-serif' font-size="10.4" font-weight="bold" text-anchor="end" fill="#080808" stroke="#080808" stroke-width="0.3">15</text>
<line x1="85.60" y1="570.46" x2="88.20" y2="570.46" stroke="#080808" stroke-width="1.35"/>
<text transform="translate(84.10,572.76) scale(1,0.97)" font-family='"Liberation Sans", sans-serif' font-size="10.4" font-weight="bold" text-anchor="end" fill="#080808" stroke="#080808" stroke-width="0.3">20</text>
<line x1="85.60" y1="558.39" x2="88.20" y2="558.39" stroke="#080808" stroke-width="1.35"/>
<text transform="translate(84.10,560.69) scale(1,0.97)" font-family='"Liberation Sans", sans-serif' font-size="10.4" font-weight="bold" text-anchor="end" fill="#080808" stroke="#080808" stroke-width="0.3">25</text>
<line x1="85.60" y1="546.32" x2="88.20" y2="546.32" stroke="#080808" stroke-width="1.35"/>
<text transform="translate(84.10,548.62) scale(1,0.97)" font-family='"Liberation Sans", sans-serif' font-size="10.4" font-weight="bold" text-anchor="end" fill="#080808" stroke="#080808" stroke-width="0.3">30</text>
<line x1="85.60" y1="534.25" x2="88.20" y2="534.25" stroke="#080808" stroke-width="1.35"/>
<text transform="translate(84.10,536.55) scale(1,0.97)" font-family='"Liberation Sans", sans-serif' font-size="10.4" font-weight="bold" text-anchor="end" fill="#080808" stroke="#080808" stroke-width="0.3">35</text>
<line x1="109.00" y1="618.75" x2="109.00" y2="620.95" stroke="#080808" stroke-width="1.35"/>
<line x1="151.75" y1="618.75" x2="151.75" y2="620.95" stroke="#080808" stroke-width="1.35"/>
<line x1="194.50" y1="618.75" x2="194.50" y2="620.95" stroke="#080808" stroke-width="1.35"/>
<text transform="translate(65.70,574.50) rotate(-90) scale(1,0.89)" font-family='"Liberation Sans", sans-serif' font-size="10.4" font-weight="bold" text-anchor="middle" fill="#080808" stroke="#080808" stroke-width="0.3">Frequency (%)</text>
<text x="108.60" y="630.00" font-family='"Liberation Sans", sans-serif' font-size="10.2" font-weight="bold" text-anchor="middle" fill="#080808" stroke="#080808" stroke-width="0.3">WT</text>
<text x="151.60" y="630.00" font-family='"Liberation Sans", sans-serif' font-size="10.2" font-weight="bold" text-anchor="middle" fill="#080808" stroke="#080808" stroke-width="0.3">a7</text>
<text x="194.50" y="630.00" font-family='"Liberation Sans", sans-serif' font-size="10.2" font-weight="bold" text-anchor="middle" fill="#080808" stroke="#080808" stroke-width="0.3">a9</text>
<text x="20.00" y="579.40" font-family='"Liberation Sans", sans-serif' font-size="10.4" font-weight="bold" text-anchor="start" fill="#080808" stroke="#080808" stroke-width="0.3">Pre-B</text>
<line x1="109.12" y1="549.50" x2="109.12" y2="545.75" stroke="#080808" stroke-width="1.0"/>
<line x1="101.62" y1="545.75" x2="116.62" y2="545.75" stroke="#080808" stroke-width="1.0"/>
<rect x="94.80" y="550.15" width="28.65" height="68.60" fill="#848484" stroke="#080808" stroke-width="1.3"/>
<line x1="151.62" y1="549.25" x2="151.62" y2="542.00" stroke="#080808" stroke-width="1.0"/>
<line x1="144.12" y1="542.00" x2="159.12" y2="542.00" stroke="#080808" stroke-width="1.0"/>
<rect x="137.30" y="549.90" width="28.65" height="68.85" fill="url(#chk)" stroke="#080808" stroke-width="1.3"/>
<line x1="194.25" y1="593.25" x2="194.25" y2="589.25" stroke="#080808" stroke-width="1.0"/>
<line x1="186.75" y1="589.25" x2="201.75" y2="589.25" stroke="#080808" stroke-width="1.0"/>
<rect x="180.00" y="593.90" width="28.50" height="24.85" fill="url(#str)" stroke="#080808" stroke-width="1.3"/>
<text transform="translate(189.90,588.19) scale(0.9,1)" font-family='"Liberation Serif", serif' font-size="18" text-anchor="middle" fill="#222" stroke="#222" stroke-width="0.14">*</text>
<text transform="translate(198.90,588.19) scale(0.9,1)" font-family='"Liberation Serif", serif' font-size="18" text-anchor="middle" fill="#222" stroke="#222" stroke-width="0.14">*</text>
<rect x="185.05" y="537.35" width="12.30" height="4.30" fill="#848484" stroke="#080808" stroke-width="1.5"/>
<text x="199.20" y="541.66" font-family='"Liberation Sans", sans-serif' font-size="7.2" font-weight="normal" text-anchor="start" fill="#111" stroke="#111" stroke-width="0.15">WT</text>
<rect x="185.05" y="547.45" width="12.30" height="4.30" fill="url(#chk)" stroke="#080808" stroke-width="1.5"/>
<text x="199.20" y="551.76" font-family='"Liberation Sans", sans-serif' font-size="7.2" font-weight="normal" text-anchor="start" fill="#111" stroke="#111" stroke-width="0.15">A7</text>
<rect x="185.05" y="557.75" width="12.30" height="4.30" fill="url(#str)" stroke="#080808" stroke-width="1.5"/>
<text x="199.20" y="562.06" font-family='"Liberation Sans", sans-serif' font-size="7.2" font-weight="normal" text-anchor="start" fill="#111" stroke="#111" stroke-width="0.15">A9</text>
<path d="M307.85 531.83 V616.25 H435.50" fill="none" stroke="#080808" stroke-width="1.35" stroke-linejoin="miter"/>
<line x1="305.25" y1="616.25" x2="307.85" y2="616.25" stroke="#080808" stroke-width="1.35"/>
<text transform="translate(303.45,619.95) scale(1,0.97)" font-family='"Liberation Sans", sans-serif' font-size="10.4" font-weight="bold" text-anchor="end" fill="#080808" stroke="#080808" stroke-width="0.3">0.000</text>
<line x1="305.25" y1="599.50" x2="307.85" y2="599.50" stroke="#080808" stroke-width="1.35"/>
<text transform="translate(303.45,603.20) scale(1,0.97)" font-family='"Liberation Sans", sans-serif' font-size="10.4" font-weight="bold" text-anchor="end" fill="#080808" stroke="#080808" stroke-width="0.3">0.025</text>
<line x1="305.25" y1="582.75" x2="307.85" y2="582.75" stroke="#080808" stroke-width="1.35"/>
<text transform="translate(303.45,586.45) scale(1,0.97)" font-family='"Liberation Sans", sans-serif' font-size="10.4" font-weight="bold" text-anchor="end" fill="#080808" stroke="#080808" stroke-width="0.3">0.050</text>
<line x1="305.25" y1="566.00" x2="307.85" y2="566.00" stroke="#080808" stroke-width="1.35"/>
<text transform="translate(303.45,569.70) scale(1,0.97)" font-family='"Liberation Sans", sans-serif' font-size="10.4" font-weight="bold" text-anchor="end" fill="#080808" stroke="#080808" stroke-width="0.3">0.075</text>
<line x1="305.25" y1="549.25" x2="307.85" y2="549.25" stroke="#080808" stroke-width="1.35"/>
<text transform="translate(303.45,552.95) scale(1,0.97)" font-family='"Liberation Sans", sans-serif' font-size="10.4" font-weight="bold" text-anchor="end" fill="#080808" stroke="#080808" stroke-width="0.3">0.100</text>
<line x1="305.25" y1="532.50" x2="307.85" y2="532.50" stroke="#080808" stroke-width="1.35"/>
<text transform="translate(303.45,536.20) scale(1,0.97)" font-family='"Liberation Sans", sans-serif' font-size="10.4" font-weight="bold" text-anchor="end" fill="#080808" stroke="#080808" stroke-width="0.3">0.125</text>
<line x1="340.00" y1="616.25" x2="340.00" y2="618.45" stroke="#080808" stroke-width="1.35"/>
<line x1="404.00" y1="616.25" x2="404.00" y2="618.45" stroke="#080808" stroke-width="1.35"/>
<text transform="translate(271.90,574.50) rotate(-90) scale(1,0.89)" font-family='"Liberation Sans", sans-serif' font-size="10.4" font-weight="bold" text-anchor="middle" fill="#080808" stroke="#080808" stroke-width="0.3">Frequency (%)</text>
<text x="339.00" y="626.80" font-family='"Liberation Sans", sans-serif' font-size="10.5" font-weight="bold" text-anchor="middle" fill="#080808" stroke="#080808" stroke-width="0.3">proT1</text>
<text x="403.10" y="626.80" font-family='"Liberation Sans", sans-serif' font-size="10.5" font-weight="bold" text-anchor="middle" fill="#080808" stroke="#080808" stroke-width="0.3">proT2</text>
<text x="450.30" y="580.00" font-family='"Liberation Sans", sans-serif' font-size="10.4" font-weight="bold" text-anchor="start" fill="#080808" stroke="#080808" stroke-width="0.3">Pro-T</text>
<line x1="322.65" y1="539.50" x2="322.65" y2="535.00" stroke="#080808" stroke-width="1.0"/>
<line x1="319.40" y1="535.00" x2="325.90" y2="535.00" stroke="#080808" stroke-width="1.0"/>
<rect x="317.05" y="540.15" width="11.20" height="76.10" fill="#848484" stroke="#080808" stroke-width="1.3"/>
<line x1="339.80" y1="558.75" x2="339.80" y2="550.50" stroke="#080808" stroke-width="1.0"/>
<line x1="336.52" y1="550.50" x2="343.08" y2="550.50" stroke="#080808" stroke-width="1.0"/>
<rect x="334.15" y="559.40" width="11.30" height="56.85" fill="url(#chk)" stroke="#080808" stroke-width="1.3"/>
<line x1="357.52" y1="606.80" x2="357.52" y2="605.00" stroke="#080808" stroke-width="1.0"/>
<line x1="354.26" y1="605.00" x2="360.79" y2="605.00" stroke="#080808" stroke-width="1.0"/>
<rect x="351.90" y="607.45" width="11.25" height="8.80" fill="url(#str)" stroke="#080808" stroke-width="1.3"/>
<text transform="translate(353.15,605.79) scale(0.9,1)" font-family='"Liberation Serif", serif' font-size="18" text-anchor="middle" fill="#222" stroke="#222" stroke-width="0.14">*</text>
<text transform="translate(362.15,605.79) scale(0.9,1)" font-family='"Liberation Serif", serif' font-size="18" text-anchor="middle" fill="#222" stroke="#222" stroke-width="0.14">*</text>
<line x1="386.60" y1="544.25" x2="386.60" y2="537.90" stroke="#080808" stroke-width="1.0"/>
<line x1="383.27" y1="537.90" x2="389.93" y2="537.90" stroke="#080808" stroke-width="1.0"/>
<rect x="380.85" y="544.90" width="11.50" height="71.35" fill="#848484" stroke="#080808" stroke-width="1.3"/>
<line x1="403.95" y1="565.50" x2="403.95" y2="546.70" stroke="#080808" stroke-width="1.0"/>
<line x1="400.65" y1="546.70" x2="407.25" y2="546.70" stroke="#080808" stroke-width="1.0"/>
<rect x="398.25" y="566.15" width="11.40" height="50.10" fill="url(#chk)" stroke="#080808" stroke-width="1.3"/>
<rect x="415.45" y="613.55" width="11.80" height="2.70" fill="url(#str)" stroke="#080808" stroke-width="1.3"/>
<text transform="translate(417.40,607.04) scale(0.9,1)" font-family='"Liberation Serif", serif' font-size="18" text-anchor="middle" fill="#222" stroke="#222" stroke-width="0.14">*</text>
<text transform="translate(426.40,607.04) scale(0.9,1)" font-family='"Liberation Serif", serif' font-size="18" text-anchor="middle" fill="#222" stroke="#222" stroke-width="0.14">*</text>
<rect x="411.90" y="529.20" width="11.45" height="4.30" fill="#848484" stroke="#080808" stroke-width="1.5"/>
<text x="425.80" y="533.51" font-family='"Liberation Sans", sans-serif' font-size="7.2" font-weight="normal" text-anchor="start" fill="#111" stroke="#111" stroke-width="0.15">WT</text>
<rect x="411.90" y="539.25" width="11.45" height="4.30" fill="url(#chk)" stroke="#080808" stroke-width="1.5"/>
<text x="425.80" y="543.56" font-family='"Liberation Sans", sans-serif' font-size="7.2" font-weight="normal" text-anchor="start" fill="#111" stroke="#111" stroke-width="0.15">A7</text>
<rect x="411.90" y="549.35" width="11.45" height="4.30" fill="url(#str)" stroke="#080808" stroke-width="1.5"/>
<text x="425.80" y="553.66" font-family='"Liberation Sans", sans-serif' font-size="7.2" font-weight="normal" text-anchor="start" fill="#111" stroke="#111" stroke-width="0.15">A9</text>
<path d="M295.45 650.03 V735.00 H442.50" fill="none" stroke="#080808" stroke-width="1.35" stroke-linejoin="miter"/>
<line x1="292.85" y1="735.00" x2="295.45" y2="735.00" stroke="#080808" stroke-width="1.35"/>
<text x="291.05" y="738.00" font-family='"Liberation Sans", sans-serif' font-size="10.4" font-weight="bold" text-anchor="end" fill="#080808" stroke="#080808" stroke-width="0.3">0</text>
<line x1="292.85" y1="725.63" x2="295.45" y2="725.63" stroke="#080808" stroke-width="1.35"/>
<text x="291.05" y="728.63" font-family='"Liberation Sans", sans-serif' font-size="10.4" font-weight="bold" text-anchor="end" fill="#080808" stroke="#080808" stroke-width="0.3">10</text>
<line x1="292.85" y1="716.27" x2="295.45" y2="716.27" stroke="#080808" stroke-width="1.35"/>
<text x="291.05" y="719.27" font-family='"Liberation Sans", sans-serif' font-size="10.4" font-weight="bold" text-anchor="end" fill="#080808" stroke="#080808" stroke-width="0.3">20</text>
<line x1="292.85" y1="706.90" x2="295.45" y2="706.90" stroke="#080808" stroke-width="1.35"/>
<text x="291.05" y="709.90" font-family='"Liberation Sans", sans-serif' font-size="10.4" font-weight="bold" text-anchor="end" fill="#080808" stroke="#080808" stroke-width="0.3">30</text>
<line x1="292.85" y1="697.53" x2="295.45" y2="697.53" stroke="#080808" stroke-width="1.35"/>
<text x="291.05" y="700.53" font-family='"Liberation Sans", sans-serif' font-size="10.4" font-weight="bold" text-anchor="end" fill="#080808" stroke="#080808" stroke-width="0.3">40</text>
<line x1="292.85" y1="688.17" x2="295.45" y2="688.17" stroke="#080808" stroke-width="1.35"/>
<text x="291.05" y="691.17" font-family='"Liberation Sans", sans-serif' font-size="10.4" font-weight="bold" text-anchor="end" fill="#080808" stroke="#080808" stroke-width="0.3">50</text>
<line x1="292.85" y1="678.80" x2="295.45" y2="678.80" stroke="#080808" stroke-width="1.35"/>
<text x="291.05" y="681.80" font-family='"Liberation Sans", sans-serif' font-size="10.4" font-weight="bold" text-anchor="end" fill="#080808" stroke="#080808" stroke-width="0.3">60</text>
<line x1="292.85" y1="669.43" x2="295.45" y2="669.43" stroke="#080808" stroke-width="1.35"/>
<text x="291.05" y="672.43" font-family='"Liberation Sans", sans-serif' font-size="10.4" font-weight="bold" text-anchor="end" fill="#080808" stroke="#080808" stroke-width="0.3">70</text>
<line x1="292.85" y1="660.07" x2="295.45" y2="660.07" stroke="#080808" stroke-width="1.35"/>
<text x="291.05" y="663.07" font-family='"Liberation Sans", sans-serif' font-size="10.4" font-weight="bold" text-anchor="end" fill="#080808" stroke="#080808" stroke-width="0.3">80</text>
<line x1="292.85" y1="650.70" x2="295.45" y2="650.70" stroke="#080808" stroke-width="1.35"/>
<text x="291.05" y="653.70" font-family='"Liberation Sans", sans-serif' font-size="10.4" font-weight="bold" text-anchor="end" fill="#080808" stroke="#080808" stroke-width="0.3">90</text>
<line x1="309.10" y1="735.00" x2="309.10" y2="737.20" stroke="#080808" stroke-width="1.35"/>
<line x1="336.90" y1="735.00" x2="336.90" y2="737.20" stroke="#080808" stroke-width="1.35"/>
<line x1="367.25" y1="735.00" x2="367.25" y2="737.20" stroke="#080808" stroke-width="1.35"/>
<line x1="397.50" y1="735.00" x2="397.50" y2="737.20" stroke="#080808" stroke-width="1.35"/>
<line x1="427.80" y1="735.00" x2="427.80" y2="737.20" stroke="#080808" stroke-width="1.35"/>
<text transform="translate(271.10,690.50) rotate(-90) scale(1,0.89)" font-family='"Liberation Sans", sans-serif' font-size="10.4" font-weight="bold" text-anchor="middle" fill="#080808" stroke="#080808" stroke-width="0.3">Frequency (%)</text>
<text x="305.75" y="751.30" font-family='"Liberation Sans", sans-serif' font-size="9.2" font-weight="bold" text-anchor="middle" fill="#080808" stroke="none">4-/8-/</text>
<text x="334.40" y="751.30" font-family='"Liberation Sans", sans-serif' font-size="9.2" font-weight="bold" text-anchor="middle" fill="#080808" stroke="none">4-/8-</text>
<text x="364.75" y="751.30" font-family='"Liberation Sans", sans-serif' font-size="9.2" font-weight="bold" text-anchor="middle" fill="#080808" stroke="none">4+/8+</text>
<text x="396.40" y="751.30" font-family='"Liberation Sans", sans-serif' font-size="9.2" font-weight="bold" text-anchor="middle" fill="#080808" stroke="none">4+/8-</text>
<text x="427.10" y="751.30" font-family='"Liberation Sans", sans-serif' font-size="9.2" font-weight="bold" text-anchor="middle" fill="#080808" stroke="none">4-/8+</text>
<text x="303.20" y="759.30" font-family='"Liberation Sans", sans-serif' font-size="9.2" font-weight="bold" text-anchor="middle" fill="#080808" stroke="none">TCR</text>
<text x="450.20" y="695.50" font-family='"Liberation Sans", sans-serif' font-size="10.4" font-weight="bold" text-anchor="start" fill="#080808" stroke="#080808" stroke-width="0.3">CD4/CD8/TCR</text>
<rect x="300.05" y="733.25" width="5.90" height="1.75" fill="#848484" stroke="#080808" stroke-width="1.3"/>
<rect x="311.90" y="732.65" width="5.55" height="2.35" fill="url(#chk)" stroke="#080808" stroke-width="1.3"/>
<rect x="329.40" y="732.65" width="5.25" height="2.35" fill="#848484" stroke="#080808" stroke-width="1.3"/>
<line x1="341.90" y1="730.75" x2="341.90" y2="729.90" stroke="#080808" stroke-width="1.0"/>
<line x1="339.98" y1="729.90" x2="343.82" y2="729.90" stroke="#080808" stroke-width="1.0"/>
<rect x="338.85" y="731.40" width="6.10" height="3.60" fill="url(#chk)" stroke="#080808" stroke-width="1.3"/>
<rect x="358.65" y="653.25" width="6.60" height="81.75" fill="#848484" stroke="#080808" stroke-width="1.3"/>
<line x1="372.85" y1="658.10" x2="372.85" y2="654.60" stroke="#080808" stroke-width="1.0"/>
<line x1="370.80" y1="654.60" x2="374.90" y2="654.60" stroke="#080808" stroke-width="1.0"/>
<rect x="369.55" y="658.75" width="6.60" height="76.25" fill="url(#chk)" stroke="#080808" stroke-width="1.3"/>
<rect x="388.85" y="729.15" width="6.20" height="5.85" fill="#848484" stroke="#080808" stroke-width="1.3"/>
<line x1="403.05" y1="723.00" x2="403.05" y2="721.00" stroke="#080808" stroke-width="1.0"/>
<line x1="401.05" y1="721.00" x2="405.05" y2="721.00" stroke="#080808" stroke-width="1.0"/>
<rect x="399.85" y="723.65" width="6.40" height="11.35" fill="url(#chk)" stroke="#080808" stroke-width="1.3"/>
<rect x="419.05" y="732.65" width="5.90" height="2.35" fill="#848484" stroke="#080808" stroke-width="1.3"/>
<rect x="430.65" y="732.95" width="6.40" height="2.05" fill="url(#chk)" stroke="#080808" stroke-width="1.3"/>
<rect x="315.25" y="667.70" width="11.90" height="4.30" fill="#848484" stroke="#080808" stroke-width="1.5"/>
<text x="329.30" y="672.01" font-family='"Liberation Sans", sans-serif' font-size="7.2" font-weight="normal" text-anchor="start" fill="#111" stroke="#111" stroke-width="0.15">WT</text>
<rect x="315.25" y="678.10" width="11.90" height="4.30" fill="url(#chk)" stroke="#080808" stroke-width="1.5"/>
<text x="329.30" y="682.41" font-family='"Liberation Sans", sans-serif' font-size="7.2" font-weight="normal" text-anchor="start" fill="#111" stroke="#111" stroke-width="0.15">A7</text>
</g>
</svg>
</body></html>
